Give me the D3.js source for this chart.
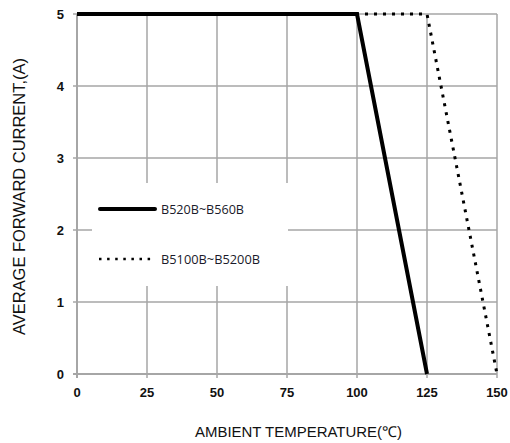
<!DOCTYPE html>
<html>
<head>
    <title>Derating curve</title>
    <script src="https://cdn.jsdelivr.net/npm/d3@7/dist/d3.min.js"></script>
    <style>
    body { margin:0; background:#fff; }
    text { font-family: "Liberation Sans", Arial, sans-serif; fill:#111; }
    .tick-label { font-size:13px; font-weight:bold; }
    .axis-title { font-size:15px; }
    .legend-text { font-size:12.5px; font-family: "Open Sans", sans-serif; fill:#1a1a2a; }
    </style>
</head>
<body>
<script>

// data
const xTicks = [0, 25, 50, 75, 100, 125, 150];
const yTicks = [0, 1, 2, 3, 4, 5];
const seriesNames = ["B520B~B560B", "B5100B~B5200B"];
const tempSolid = [0, 100, 125];
const currentSolid = [5, 5, 0];
const tempDotted = [0, 125, 150];
const currentDotted = [5, 5, 0];

const width = 510, height = 443;
const margin = {top:14, left:77, right:13, bottom:69};

const svg = d3.select("body").append("svg")
    .attr("width", width)
    .attr("height", height);

const x = d3.scaleLinear().domain([0,150]).range([margin.left, width - margin.right]);
const y = d3.scaleLinear().domain([0,5]).range([height - margin.bottom, margin.top]);

// gridlines
const grid = svg.append("g");
grid.selectAll(".vgrid").data(xTicks).enter().append("line")
    .attr("x1", d => x(d)).attr("x2", d => x(d))
    .attr("y1", y(5)).attr("y2", y(0) + 4)
    .attr("stroke", "#a6a6a6").attr("stroke-width", d => d === 0 ? 2 : 1.5);
grid.selectAll(".hgrid").data(yTicks).enter().append("line")
    .attr("x1", x(0) - 4).attr("x2", x(150))
    .attr("y1", d => y(d)).attr("y2", d => y(d))
    .attr("stroke", "#a6a6a6").attr("stroke-width", d => d === 0 ? 2 : 1.5);

// legend background covering the grid
svg.append("rect")
    .attr("x", 92).attr("y", 183)
    .attr("width", 196).attr("height", 103)
    .attr("fill", "#fff");

// tick labels
svg.selectAll(".xlab").data(xTicks).enter().append("text")
    .attr("class", "tick-label")
    .attr("x", d => x(d)).attr("y", y(0) + 23)
    .attr("text-anchor", "middle")
    .text(d => d);
svg.selectAll(".ylab").data(yTicks).enter().append("text")
    .attr("class", "tick-label")
    .attr("x", x(0) - 13).attr("y", d => y(d) + 5)
    .attr("text-anchor", "end")
    .text(d => d);

// axis titles
svg.append("text").attr("class", "axis-title")
    .attr("x", 195).attr("y", 437)
    .attr("textLength", 207).attr("lengthAdjust", "spacingAndGlyphs")
    .text("AMBIENT TEMPERATURE(\u2103)");
svg.append("text").attr("class", "axis-title")
    .style("font-size", "16px")
    .attr("transform", "translate(25,335) rotate(-90)")
    .attr("textLength", 277).attr("lengthAdjust", "spacingAndGlyphs")
    .text("AVERAGE FORWARD CURRENT,(A)");

// curves
const line = d3.line().x(d => x(d[0])).y(d => y(d[1]));
const dottedPts = tempDotted.map((t,i) => [t, currentDotted[i]]);
const solidPts = tempSolid.map((t,i) => [t, currentSolid[i]]);

svg.append("path").datum(dottedPts)
    .attr("d", line).attr("fill", "none")
    .attr("stroke", "#000").attr("stroke-width", 3)
    .attr("stroke-dasharray", "3,6");
svg.append("path").datum(solidPts)
    .attr("d", line).attr("fill", "none")
    .attr("stroke", "#000").attr("stroke-width", 4);

// legend
const legend = svg.append("g");
legend.append("line")
    .attr("x1", 100).attr("x2", 155).attr("y1", 209).attr("y2", 209)
    .attr("stroke", "#000").attr("stroke-width", 4).attr("stroke-linecap", "round");
legend.append("line")
    .attr("x1", 99).attr("x2", 155).attr("y1", 259).attr("y2", 259)
    .attr("stroke", "#000").attr("stroke-width", 2.5)
    .attr("stroke-dasharray", "2.5,5.6");
legend.append("text").attr("class", "legend-text")
    .attr("x", 161).attr("y", 213.5)
    .attr("textLength", 83).attr("lengthAdjust", "spacingAndGlyphs")
    .text(seriesNames[0]);
legend.append("text").attr("class", "legend-text")
    .attr("x", 161).attr("y", 263.5)
    .attr("textLength", 99).attr("lengthAdjust", "spacingAndGlyphs")
    .text(seriesNames[1]);

</script>
</body>
</html>
